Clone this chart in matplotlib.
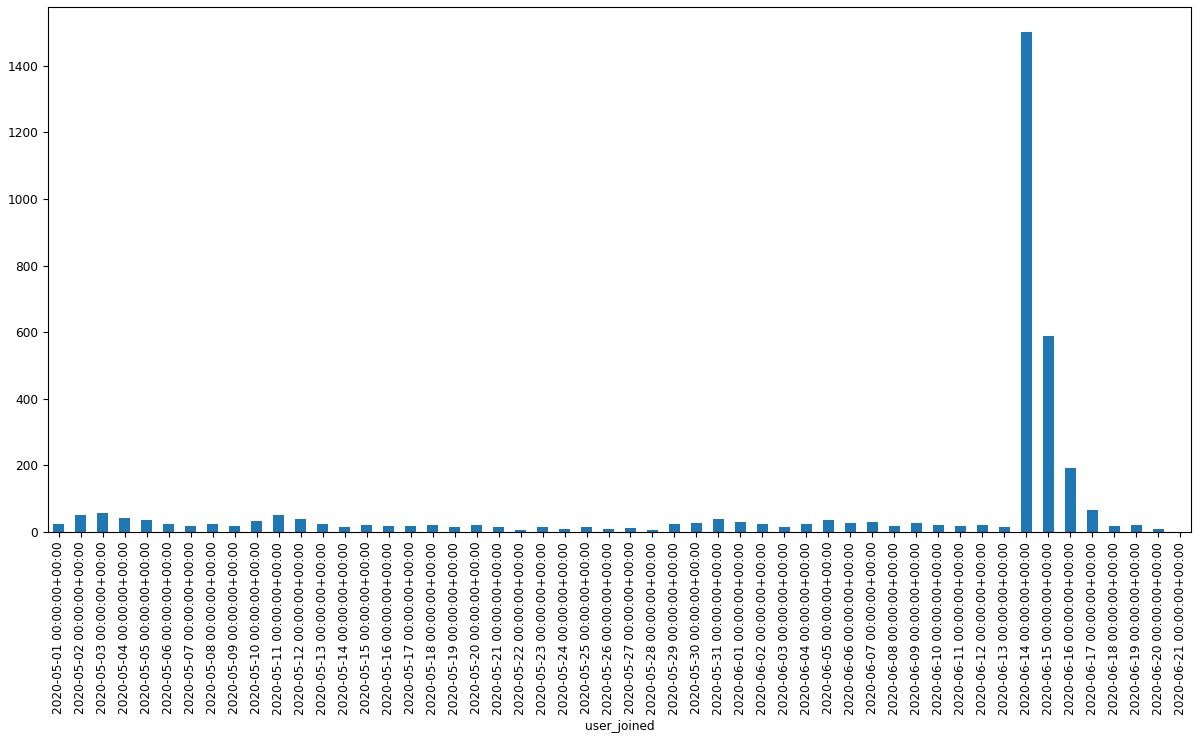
import matplotlib
matplotlib.use('Agg')
import matplotlib.pyplot as plt
import pandas as pd

plt.rcParams['font.size'] = 8.7

# daily count of new users
dates = pd.date_range('2020-05-01', '2020-06-21', freq='D', tz='UTC')
counts = [25, 52, 58, 43, 36, 25, 19, 25, 18, 32,
          51, 38, 25, 14, 22, 19, 19, 22, 14, 20,
          14, 7, 14, 9, 14, 9, 11, 7, 25, 27,
          38, 31, 24, 16, 25, 36, 26, 30, 18, 26,
          20, 17, 20, 14, 1500, 590, 191, 66, 18, 22,
          10, 0]

s = pd.Series(counts, index=pd.Index(dates, name='user_joined'))

fig, ax = plt.subplots(figsize=(12, 7.4), dpi=100)
s.plot(kind='bar', ax=ax, color='#1f77b4')
ax.set_xticklabels([str(d) for d in s.index])

fig.subplots_adjust(left=0.04, right=0.9925, top=0.99, bottom=0.281)
fig.savefig('out.png')
